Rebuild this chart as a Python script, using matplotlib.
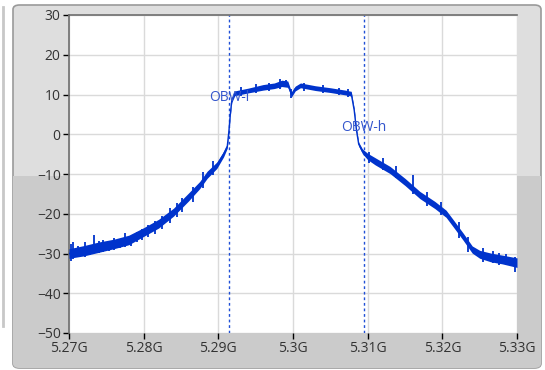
import numpy as np
import matplotlib
matplotlib.use('Agg')
import matplotlib.pyplot as plt
from matplotlib.patches import FancyBboxPatch, Rectangle
from matplotlib.ticker import FuncFormatter

# spectrum trace (GHz, dB) and noise half-width
freq = [5.2700, 5.2720, 5.2740, 5.2760, 5.2780, 5.2800, 5.2820, 5.2840, 5.2860,
        5.2875, 5.2885, 5.2898, 5.2907, 5.2912, 5.2914, 5.2916, 5.2918, 5.2922,
        5.2940, 5.2960, 5.2975, 5.2985, 5.2993, 5.2998, 5.3003, 5.3010, 5.3030,
        5.3050, 5.3070, 5.3078, 5.3082, 5.3085, 5.3088, 5.3093, 5.3100, 5.3110,
        5.3130, 5.3150, 5.3170, 5.3190, 5.3205, 5.3215, 5.3228, 5.3240, 5.3250,
        5.3265, 5.3280, 5.3300]
level = [-30.0, -29.3, -28.4, -27.6, -26.6, -24.6, -22.5, -19.6, -15.8,
         -12.8, -10.2, -7.8, -5.0, -3.0, 0.5, 5.0, 8.5, 10.3,
         11.0, 11.8, 12.2, 12.8, 12.6, 10.0, 11.5, 12.3, 11.6,
         11.1, 10.5, 10.2, 6.0, 1.0, -2.5, -4.3, -5.6, -6.8,
         -9.0, -12.0, -15.3, -17.8, -20.0, -22.5, -25.8, -29.0, -30.2,
         -31.0, -31.5, -32.3]
spread = [1.2, 1.3, 1.3, 1.2, 1.2, 1.1, 1.1, 1.0, 1.0,
          0.9, 0.9, 0.8, 0.7, 0.5, 0.5, 0.5, 0.5, 0.6,
          0.6, 0.7, 0.7, 0.8, 0.8, 0.6, 0.6, 0.6, 0.6,
          0.6, 0.6, 0.6, 0.5, 0.5, 0.5, 0.6, 0.8, 0.9,
          0.9, 0.9, 0.9, 0.9, 0.9, 0.9, 0.9, 0.9, 1.0,
          1.1, 1.1, 1.2]

# noise spikes visible on the trace (GHz, low dB, high dB)
spike_f = [5.2703, 5.2706, 5.2712, 5.2721, 5.2728, 5.2733, 5.2740, 5.2746, 5.2753,
           5.2760, 5.2768, 5.2775, 5.2783, 5.2791, 5.2798, 5.2806, 5.2815, 5.2825,
           5.2835, 5.2845, 5.2852, 5.2866, 5.2880, 5.2893,
           5.2930, 5.2950, 5.2968, 5.2982, 5.2991, 5.2997, 5.3015, 5.3040, 5.3062,
           5.3074,
           5.3102, 5.3120, 5.3138, 5.3161, 5.3180, 5.3198, 5.3222, 5.3235, 5.3255,
           5.3268, 5.3276, 5.3285, 5.3297]
spike_lo = [-31.8, -31.4, -31.0, -30.8, -30.5, -29.8, -29.8, -29.6, -29.4,
            -29.0, -28.6, -28.4, -28.0, -27.0, -26.5, -25.8, -25.0, -23.8,
            -22.4, -20.8, -19.6, -17.0, -13.6, -10.2,
            9.6, 10.3, 10.8, 11.5, 11.8, 9.0, 11.0, 10.5, 9.8,
            9.4,
            -7.2, -9.0, -11.0, -15.0, -18.0, -20.4, -26.0, -29.5, -32.2,
            -32.4, -33.0, -33.0, -34.6]
spike_hi = [-27.5, -27.0, -28.0, -27.2, -27.8, -25.4, -26.8, -26.7, -27.0,
            -26.2, -26.5, -24.9, -25.5, -24.6, -23.8, -22.8, -21.8, -20.6,
            -18.6, -17.2, -16.0, -13.2, -9.6, -6.8,
            11.8, 12.6, 12.8, 14.0, 13.6, 11.5, 13.0, 12.4, 11.6,
            11.4,
            -4.5, -6.0, -8.0, -10.3, -14.5, -17.0, -22.0, -25.8, -28.6,
            -29.4, -29.8, -30.0, -31.0]

obw_pos = [5.29142, 5.30953]
obw_labels = ['OBW-l', 'OBW-h']
obw_label_y = [9.2, 1.8]

xticks = [5.27, 5.28, 5.29, 5.30, 5.31, 5.32, 5.33]
yticks = [30, 20, 10, 0, -10, -20, -30, -40, -50]

plt.rcParams['font.family'] = ['Open Sans', 'DejaVu Sans']

fig = plt.figure(figsize=(5.45, 3.7), dpi=100)
fig.patch.set_facecolor('white')

# grey rounded panel behind the graph
panel = FancyBboxPatch((13 / 545, 2 / 370), 528 / 545, 363 / 370,
                       boxstyle='round,pad=0,rounding_size=0.012',
                       transform=fig.transFigure, facecolor='#dedede',
                       edgecolor='#9a9a9a', linewidth=1.2, zorder=-3)
fig.patches.append(panel)
lower = Rectangle((0, 0), 1, 1 - 176 / 370, transform=fig.transFigure,
                  facecolor='#cbcbcb', edgecolor='none', zorder=-2)
lower.set_clip_path(panel)
fig.patches.append(lower)
fig.add_artist(plt.Line2D([3 / 545, 3 / 545], [0.12, 0.98], transform=fig.transFigure,
                          color='#c8c8c8', linewidth=2, zorder=-2))

ax = fig.add_axes([69 / 545, 1 - 333 / 370, 448 / 545, 318 / 370])
ax.set_zorder(1)
ax.set_facecolor('white')

f = np.array(freq)
v = np.array(level)
s = np.array(spread)
ax.fill_between(f, v - s, v + s, color='#0033cc', linewidth=0, zorder=3)
ax.plot(f, v, color='#0033cc', linewidth=1.0, zorder=3)
ax.vlines(spike_f, spike_lo, spike_hi, color='#0033cc', linewidth=1.3, zorder=3)

for xp, lab, ly in zip(obw_pos, obw_labels, obw_label_y):
    ax.axvline(xp, color='#1f4fd6', linewidth=1, linestyle=(0, (2, 2)), zorder=2)
    ax.text(xp, ly, lab, color='#3355cc', fontsize=10, ha='center', va='center', zorder=4)

ax.set_xlim(5.27, 5.33)
ax.set_ylim(-50, 30)
ax.set_xticks(xticks)
ax.set_yticks(yticks)
ax.xaxis.set_major_formatter(FuncFormatter(lambda x, p: '%gG' % round(x, 3)))
ax.grid(True, color='#dadada', linewidth=1, zorder=1)
ax.set_axisbelow(True)
ax.tick_params(direction='out', length=4, width=1, color='black', labelcolor='#333333',
               labelsize=10, pad=2)

for side in ['right', 'bottom']:
    ax.spines[side].set_visible(False)
for side in ['left', 'top']:
    ax.spines[side].set_color('#6e6e6e')
    ax.spines[side].set_linewidth(1.2)

fig.savefig('out.png', dpi=100)
